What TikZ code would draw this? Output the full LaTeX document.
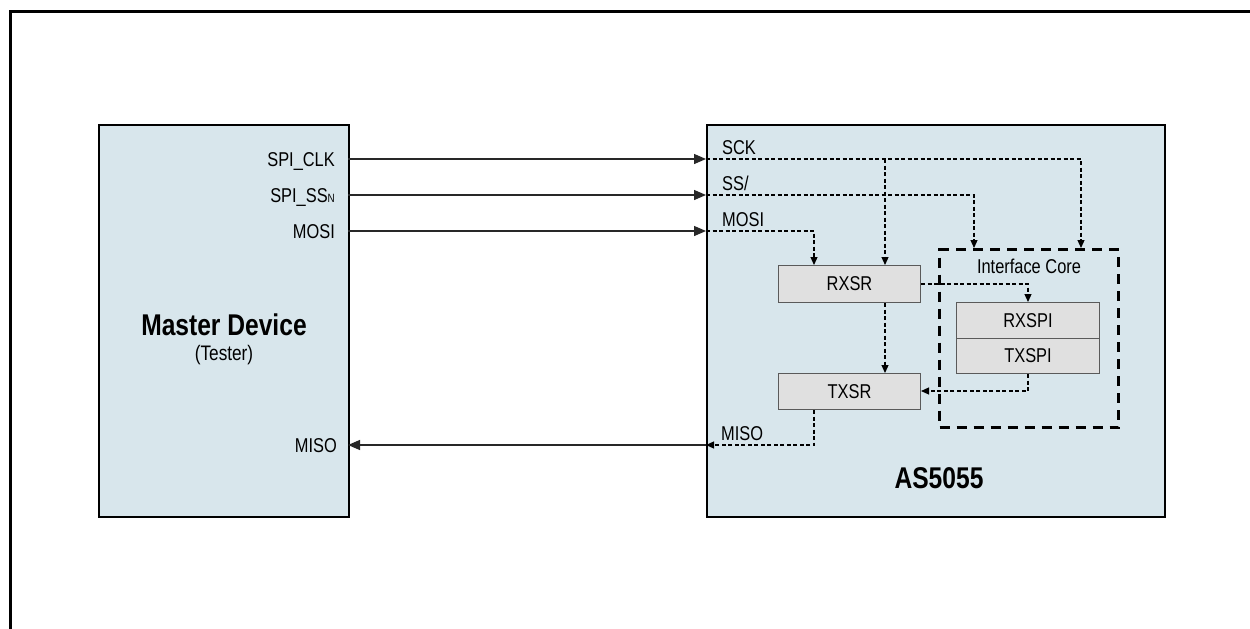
\documentclass[tikz,border=0pt]{standalone}
\usepackage{fontspec}
\setmainfont{Liberation Sans}[FakeStretch=0.82]
\usetikzlibrary{arrows.meta}
\definecolor{devfill}{RGB}{216,230,236}
\definecolor{regfill}{RGB}{224,224,224}
\definecolor{regline}{RGB}{90,90,90}
\definecolor{wire}{RGB}{40,40,40}
\begin{document}
\begin{tikzpicture}[x=1pt,y=-1pt,
  devbox/.style={draw=black, line width=1.6pt, fill=devfill, anchor=north west, inner sep=0pt},
  regbox/.style={draw=regline, line width=1pt, fill=regfill, anchor=north west, inner sep=0pt,
     font=\fontsize{20}{22}\selectfont},
  lbl/.style={inner sep=0pt, font=\fontsize{20}{22}\selectfont},
  bigtitle/.style={inner sep=0pt, font=\fontsize{30}{32}\selectfont\bfseries},
  sconn/.style={draw=wire, line width=1.3pt, -{Triangle[length=12pt,width=10pt]}},
  dconn/.style={draw=black, line width=1.2pt, dash pattern=on 4pt off 2.5pt, -{Triangle[length=8pt,width=7pt]}},
  corebox/.style={draw=black, line width=3pt, dash pattern=on 10pt off 7pt, anchor=north west, inner sep=0pt},
]
\useasboundingbox (0,0) rectangle (1250,629);
\fill[white] (0,0) rectangle (1250,629);
% outer frame
\draw[line width=3pt] (10,640) -- (10,11) -- (1262,11);

% main blocks
\node[devbox, minimum width=250pt, minimum height=392pt] (master) at (98,124) {};
\node[devbox, minimum width=458pt, minimum height=392pt] (as) at (706,124) {};

\node[bigtitle] (mtitle) at (224,325) {Master Device};
\node[lbl, font=\fontsize{21}{22}\selectfont] (tester) at (224,355) {(Tester)};
\node[bigtitle] (astitle) at (939,478) {AS5055};

% interface core
\node[corebox, minimum width=179pt, minimum height=178pt] (core) at (938,248) {};
\node[lbl] (coretxt) at (1029,266) {Interface Core};

% registers
\node[regbox, minimum width=142pt, minimum height=37pt] (rxsr) at (778,265) {RXSR};
\node[regbox, minimum width=142pt, minimum height=36pt] (txsr) at (778,373) {TXSR};
\node[regbox, minimum width=143pt, minimum height=36pt] (rxspi) at (956,302) {RXSPI};
\node[regbox, minimum width=143pt, minimum height=35pt] (txspi) at (956,338) {TXSPI};

% port coordinates
\coordinate (mclk) at (348,159);
\coordinate (mss) at (348,195);
\coordinate (mmosi) at (348,231);
\coordinate (mmiso) at (348,445);
\coordinate (aclk) at (706,159);
\coordinate (ass) at (706,195);
\coordinate (amosi) at (706,231);
\coordinate (amiso) at (706,445);
\coordinate (clktap) at (885,159);
\coordinate (clkx) at (1081,159);
\coordinate (ssx) at (974,195);
\coordinate (mosix) at (814,231);
\coordinate (rxout) at (1028,284);
\coordinate (txret) at (1028,391);
\coordinate (misox) at (814,445);

% left labels
\node[lbl, anchor=base east] (lclk) at (335,166) {SPI\_CLK};
\node[lbl, anchor=base east] (lss) at (335,202) {SPI\_SS{\fontsize{12}{12}\selectfont N}};
\node[lbl, anchor=base east] (lmosi) at (335,238) {MOSI};
\node[lbl, anchor=base east] (lmiso) at (337,452) {MISO};

% right labels
\node[lbl, anchor=base west] (rclk) at (722,154) {SCK};
\node[lbl, anchor=base west] (rss) at (722,190) {SS/};
\node[lbl, anchor=base west] (rmosi) at (722,226) {MOSI};
\node[lbl, anchor=base west] (rmiso) at (721,440) {MISO};

% solid connectors
\draw[sconn] (mclk) -- (aclk);
\draw[sconn] (mss) -- (ass);
\draw[sconn] (mmosi) -- (amosi);
\draw[sconn] (amiso) -- (mmiso);

% dashed connectors
\draw[dconn] (aclk) -- (clkx) -- (clkx |- core.north);
\draw[dconn] (clktap) -- (clktap |- rxsr.north);
\draw[dconn] (ass) -- (ssx) -- (ssx |- core.north);
\draw[dconn] (amosi) -- (mosix) -- (mosix |- rxsr.north);
\draw[dconn] (rxsr.south -| clktap) -- (txsr.north -| clktap);
\draw[dconn] (rxsr.east |- rxout) -- (rxout) -- (rxout |- rxspi.north);
\draw[dconn] (txspi.south -| txret) -- (txret) -- (txsr.east |- txret);
\draw[dconn] (txsr.south -| misox) -- (misox) -- (amiso);
\end{tikzpicture}
\end{document}
